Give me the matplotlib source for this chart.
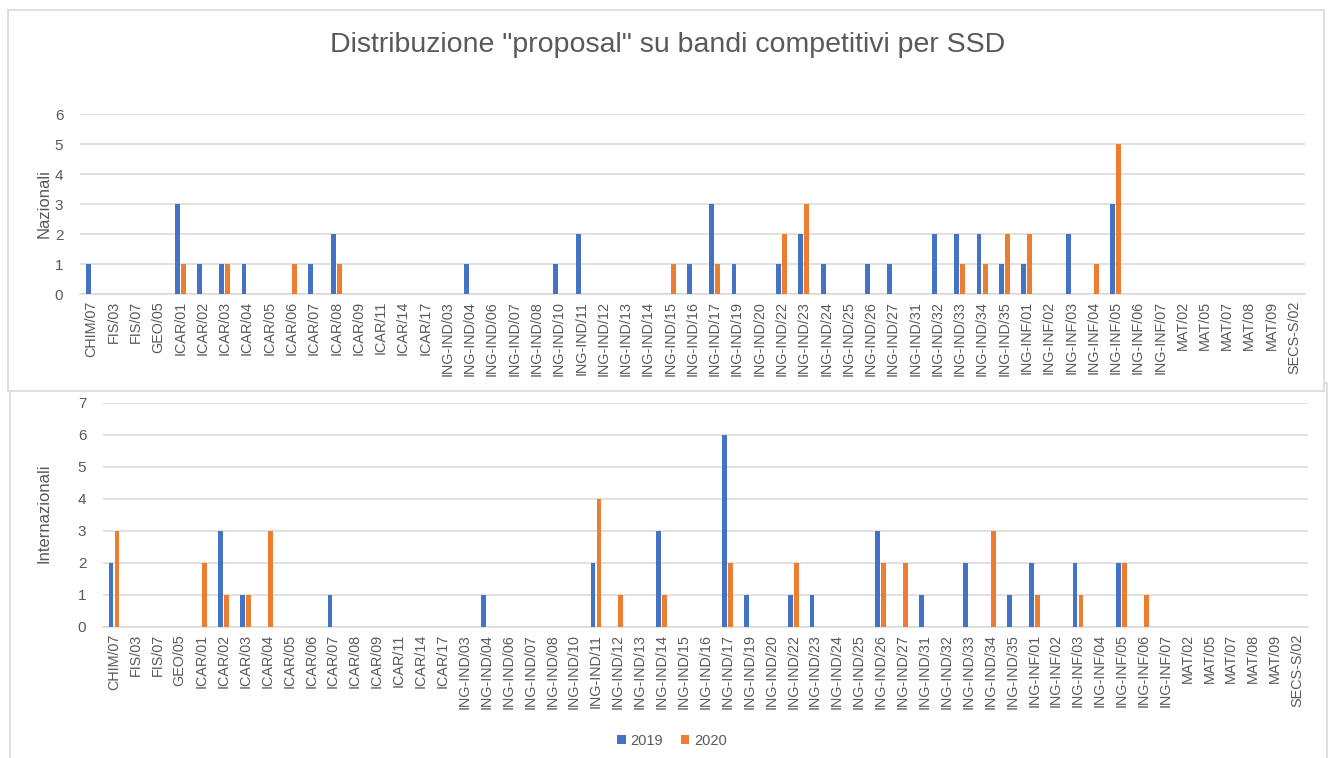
import numpy as np
import matplotlib
matplotlib.use('Agg')
import matplotlib.pyplot as plt
from matplotlib.patches import Rectangle

plt.rcParams['font.family'] = ['Liberation Sans', 'DejaVu Sans']

# categories (SSD)
ssd = ['CHIM/07', 'FIS/03', 'FIS/07', 'GEO/05', 'ICAR/01', 'ICAR/02', 'ICAR/03', 'ICAR/04',
       'ICAR/05', 'ICAR/06', 'ICAR/07', 'ICAR/08', 'ICAR/09', 'ICAR/11', 'ICAR/14', 'ICAR/17',
       'ING-IND/03', 'ING-IND/04', 'ING-IND/06', 'ING-IND/07', 'ING-IND/08', 'ING-IND/10',
       'ING-IND/11', 'ING-IND/12', 'ING-IND/13', 'ING-IND/14', 'ING-IND/15', 'ING-IND/16',
       'ING-IND/17', 'ING-IND/19', 'ING-IND/20', 'ING-IND/22', 'ING-IND/23', 'ING-IND/24',
       'ING-IND/25', 'ING-IND/26', 'ING-IND/27', 'ING-IND/31', 'ING-IND/32', 'ING-IND/33',
       'ING-IND/34', 'ING-IND/35', 'ING-INF/01', 'ING-INF/02', 'ING-INF/03', 'ING-INF/04',
       'ING-INF/05', 'ING-INF/06', 'ING-INF/07', 'MAT/02', 'MAT/05', 'MAT/07', 'MAT/08',
       'MAT/09', 'SECS-S/02']

# nazionali
naz_2019 = [1, 0, 0, 0, 3, 1, 1, 1, 0, 0, 1, 2, 0, 0, 0, 0,
            0, 1, 0, 0, 0, 1, 2, 0, 0, 0, 0, 1, 3, 1, 0, 1, 2, 1, 0, 1, 1, 0, 2, 2, 2, 1,
            1, 0, 2, 0, 3, 0, 0, 0, 0, 0, 0, 0, 0]
naz_2020 = [0, 0, 0, 0, 1, 0, 1, 0, 0, 1, 0, 1, 0, 0, 0, 0,
            0, 0, 0, 0, 0, 0, 0, 0, 0, 0, 1, 0, 1, 0, 0, 2, 3, 0, 0, 0, 0, 0, 0, 1, 1, 2,
            2, 0, 0, 1, 5, 0, 0, 0, 0, 0, 0, 0, 0]

# internazionali
int_2019 = [2, 0, 0, 0, 0, 3, 1, 0, 0, 0, 1, 0, 0, 0, 0, 0,
            0, 1, 0, 0, 0, 0, 2, 0, 0, 3, 0, 0, 6, 1, 0, 1, 1, 0, 0, 3, 0, 1, 0, 2, 0, 1,
            2, 0, 2, 0, 2, 0, 0, 0, 0, 0, 0, 0, 0]
int_2020 = [3, 0, 0, 0, 2, 1, 1, 3, 0, 0, 0, 0, 0, 0, 0, 0,
            0, 0, 0, 0, 0, 0, 4, 1, 0, 1, 0, 0, 2, 0, 0, 2, 0, 0, 0, 2, 2, 0, 0, 0, 3, 0,
            1, 0, 1, 0, 2, 1, 0, 0, 0, 0, 0, 0, 0]

blue = '#4472C4'
orange = '#ED7D31'
grid_col = '#D9D9D9'
txt_col = '#595959'

fig = plt.figure(figsize=(13.3, 7.58), dpi=100)

# chart frames like the two pasted Excel charts (top one lies over the bottom one)
fig.patches.append(Rectangle((10 / 1330, -0.01), 1317 / 1330, 1 - 383 / 758 + 0.01,
                             transform=fig.transFigure, fc='white', ec=grid_col, lw=1.2, zorder=-2))
fig.patches.append(Rectangle((8 / 1330, 1 - 391 / 758), 1316 / 1330, 381 / 758,
                             transform=fig.transFigure, fc='white', ec=grid_col, lw=1.2, zorder=-1))

ax1 = fig.add_axes([80 / 1330, 1 - 294 / 758, 1225 / 1330, 180 / 758])
ax2 = fig.add_axes([103 / 1330, 1 - 627 / 758, 1205 / 1330, 224 / 758])

x = np.arange(len(ssd))
w = 0.22
off = 0.135


def style(ax, ymax, series_a, series_b):
    ax.patch.set_alpha(0)
    ax.bar(x - off, series_a, width=w, color=blue, label='2019', zorder=3)
    ax.bar(x + off, series_b, width=w, color=orange, label='2020', zorder=3)
    ax.set_xlim(-0.5, len(ssd) - 0.5)
    ax.set_ylim(0, ymax)
    ax.set_yticks(range(ymax + 1))
    ax.set_xticks(x)
    ax.set_xticklabels(ssd, rotation=90, fontsize=10.4, color=txt_col)
    ax.tick_params(axis='y', length=0, pad=12, labelsize=11, labelcolor=txt_col)
    ax.tick_params(axis='x', length=0, pad=5)
    ax.grid(axis='y', color=grid_col, lw=1.1, zorder=0)
    for s in ['top', 'right', 'left']:
        ax.spines[s].set_visible(False)
    ax.spines['bottom'].set_color(grid_col)
    ax.spines['bottom'].set_linewidth(1.1)


style(ax1, 6, naz_2019, naz_2020)
style(ax2, 7, int_2019, int_2020)

fig.text(668 / 1330, 1 - 45 / 758, 'Distribuzione "proposal" su bandi competitivi per SSD',
         ha='center', va='center', fontsize=20.5, color=txt_col)
fig.text(44 / 1330, 1 - 204 / 758, 'Nazionali', rotation=90, ha='center', va='center',
         fontsize=12, color=txt_col)
fig.text(44 / 1330, 1 - 513 / 758, 'Internazionali', rotation=90, ha='center', va='center',
         fontsize=12, color=txt_col)

fig.legend(*ax2.get_legend_handles_labels(), loc='center', bbox_to_anchor=(672 / 1330, 1 - 741 / 758),
           ncol=2, frameon=False, fontsize=10.5, handlelength=0.6, handleheight=0.6,
           handletextpad=0.3, columnspacing=1.2, labelcolor=txt_col)

fig.savefig('out.png', dpi=100)
